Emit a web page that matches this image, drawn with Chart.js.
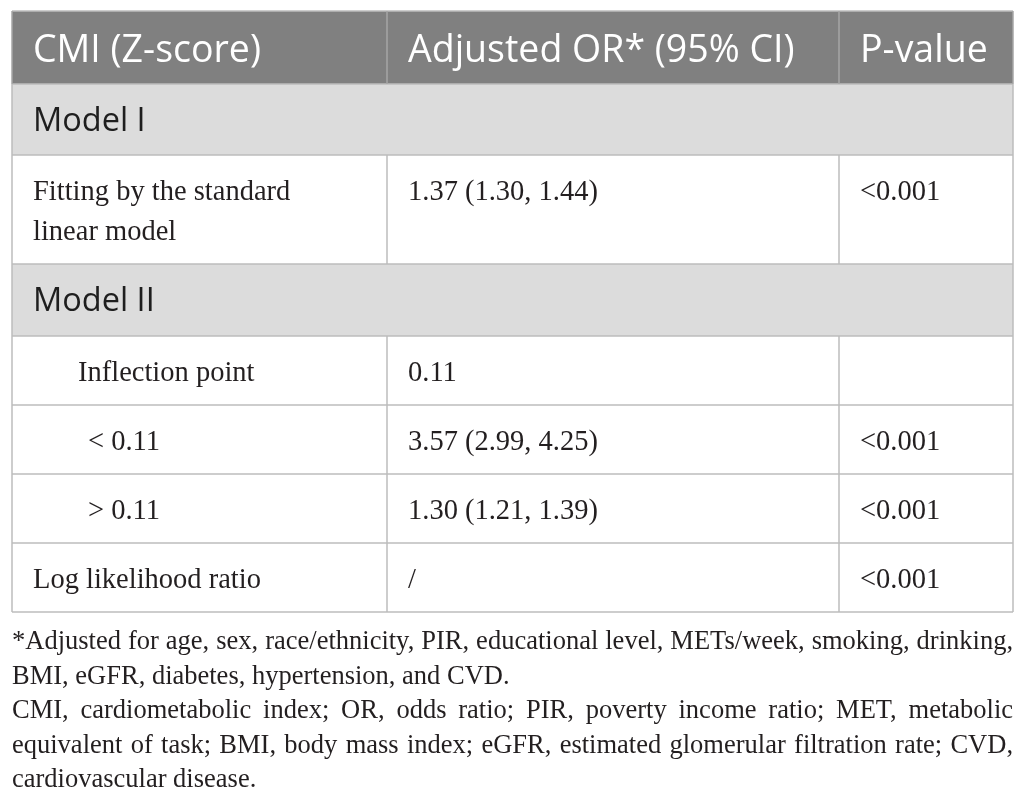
<!DOCTYPE html>
<html>
<head>
<meta charset="utf-8">
<script src="https://cdn.jsdelivr.net/npm/chart.js@4.4.0/dist/chart.umd.min.js"></script>
<style>
  html, body { margin: 0; padding: 0; background: #ffffff; }
  #wrap { width: 1026px; height: 801px; }
</style>
</head>
<body>
<div id="wrap"><canvas id="table" width="1026" height="801"></canvas></div>
<script>
// table content
const columnHeaders = ["CMI (Z-score)", "Adjusted OR* (95% CI)", "P-value"];
const sectionLabels = ["Model I", "Model II"];
const rowLabels = [
  ["Fitting by the standard", "linear model"],
  ["Inflection point"],
  ["< 0.11"],
  ["> 0.11"],
  ["Log likelihood ratio"]
];
const orValues = ["1.37 (1.30, 1.44)", "0.11", "3.57 (2.99, 4.25)", "1.30 (1.21, 1.39)", "/"];
const pValues = ["<0.001", "", "<0.001", "<0.001", "<0.001"];
const footnotes = [
  "*Adjusted for age, sex, race/ethnicity, PIR, educational level, METs/week, smoking, drinking,",
  "BMI, eGFR, diabetes, hypertension, and CVD.",
  "CMI, cardiometabolic index; OR, odds ratio; PIR, poverty income ratio; MET, metabolic",
  "equivalent of task; BMI, body mass index; eGFR, estimated glomerular filtration rate; CVD,",
  "cardiovascular disease."
];

// layout (in scale units, 1 unit = 1 px)
const colEdges = [12, 387, 839, 1013];
const rowEdges = [11, 84, 155, 264, 336, 405, 474, 543, 612];
// row kinds in drawing order
const rowKinds = ["header", "section", "body", "section", "body", "body", "body", "body"];
const labelIndent = [0, 45, 55, 55, 0];
const justifyLine = [true, false, true, true, false];

const sansFont = "'Open Sans', 'Noto Sans', sans-serif";
const serifFont = "'Liberation Serif', 'DejaVu Serif', serif";

const tablePlugin = {
  id: "tableCells",
  afterDraw(chart) {
    const { ctx, scales: { x, y } } = chart;
    const px = v => x.getPixelForValue(v);
    const py = v => y.getPixelForValue(v);
    const left = colEdges[0], right = colEdges[colEdges.length - 1];

    ctx.save();
    // backgrounds
    rowKinds.forEach((kind, i) => {
      let fill = null;
      if (kind === "header") fill = "#808080";
      if (kind === "section") fill = "#dcdcdc";
      if (fill) {
        ctx.fillStyle = fill;
        ctx.fillRect(px(left), py(rowEdges[i]), px(right) - px(left), py(rowEdges[i + 1]) - py(rowEdges[i]));
      }
    });

    // grid lines
    ctx.lineWidth = 1.5;
    ctx.strokeStyle = "#bdbdbd";
    rowEdges.forEach(r => {
      ctx.beginPath();
      ctx.moveTo(px(left), py(r));
      ctx.lineTo(px(right), py(r));
      ctx.stroke();
    });
    rowKinds.forEach((kind, i) => {
      const edges = kind === "section" ? [left, right] : colEdges;
      ctx.strokeStyle = kind === "header" ? "#a6a6a6" : "#bdbdbd";
      edges.forEach(c => {
        ctx.beginPath();
        ctx.moveTo(px(c), py(rowEdges[i]));
        ctx.lineTo(px(c), py(rowEdges[i + 1]));
        ctx.stroke();
      });
    });

    // text
    ctx.textBaseline = "alphabetic";
    ctx.textAlign = "left";
    let section = 0, body = 0;
    rowKinds.forEach((kind, i) => {
      const top = rowEdges[i];
      if (kind === "header") {
        ctx.font = "37.5px " + sansFont;
        ctx.fillStyle = "#ffffff";
        columnHeaders.forEach((h, c) => ctx.fillText(h, px(colEdges[c] + 21), py(top + 51)));
      } else if (kind === "section") {
        ctx.font = "32.5px " + sansFont;
        ctx.fillStyle = "#1e1e1e";
        ctx.fillText(sectionLabels[section++], px(left + 21), py(top + 47));
      } else {
        ctx.font = "28.5px " + serifFont;
        ctx.fillStyle = "#231f20";
        rowLabels[body].forEach((line, k) =>
          ctx.fillText(line, px(left + 21 + labelIndent[body]), py(top + 45 + k * 40)));
        ctx.fillText(orValues[body], px(colEdges[1] + 21), py(top + 45));
        ctx.fillText(pValues[body], px(colEdges[2] + 21), py(top + 45));
        body++;
      }
    });

    // footnotes, justified to table width
    ctx.font = "26.5px " + serifFont;
    ctx.fillStyle = "#231f20";
    footnotes.forEach((line, k) => {
      const base = py(649 + k * 34.5);
      const avail = px(right) - px(left);
      if (!justifyLine[k]) {
        ctx.fillText(line, px(left), base);
        return;
      }
      const words = line.split(" ");
      const wordsWidth = words.reduce((s, w) => s + ctx.measureText(w).width, 0);
      const minGap = ctx.measureText(" ").width * 0.8;
      let gap = (avail - wordsWidth) / (words.length - 1);
      let squeeze = 1;
      if (gap < minGap) {
        gap = minGap;
        squeeze = avail / (wordsWidth + minGap * (words.length - 1));
      }
      ctx.save();
      ctx.translate(px(left), 0);
      ctx.scale(squeeze, 1);
      let cx = 0;
      words.forEach(w => {
        ctx.fillText(w, cx, base);
        cx += ctx.measureText(w).width + gap;
      });
      ctx.restore();
    });
    ctx.restore();
  }
};

new Chart(document.getElementById("table"), {
  type: "scatter",
  data: { datasets: [{ data: [], pointRadius: 0 }] },
  options: {
    responsive: false,
    animation: false,
    layout: { padding: 0 },
    plugins: { legend: { display: false }, tooltip: { enabled: false } },
    scales: {
      x: { type: "linear", min: 0, max: 1026, display: false },
      y: { type: "linear", min: 0, max: 801, reverse: true, display: false }
    }
  },
  plugins: [tablePlugin]
});
</script>
</body>
</html>
